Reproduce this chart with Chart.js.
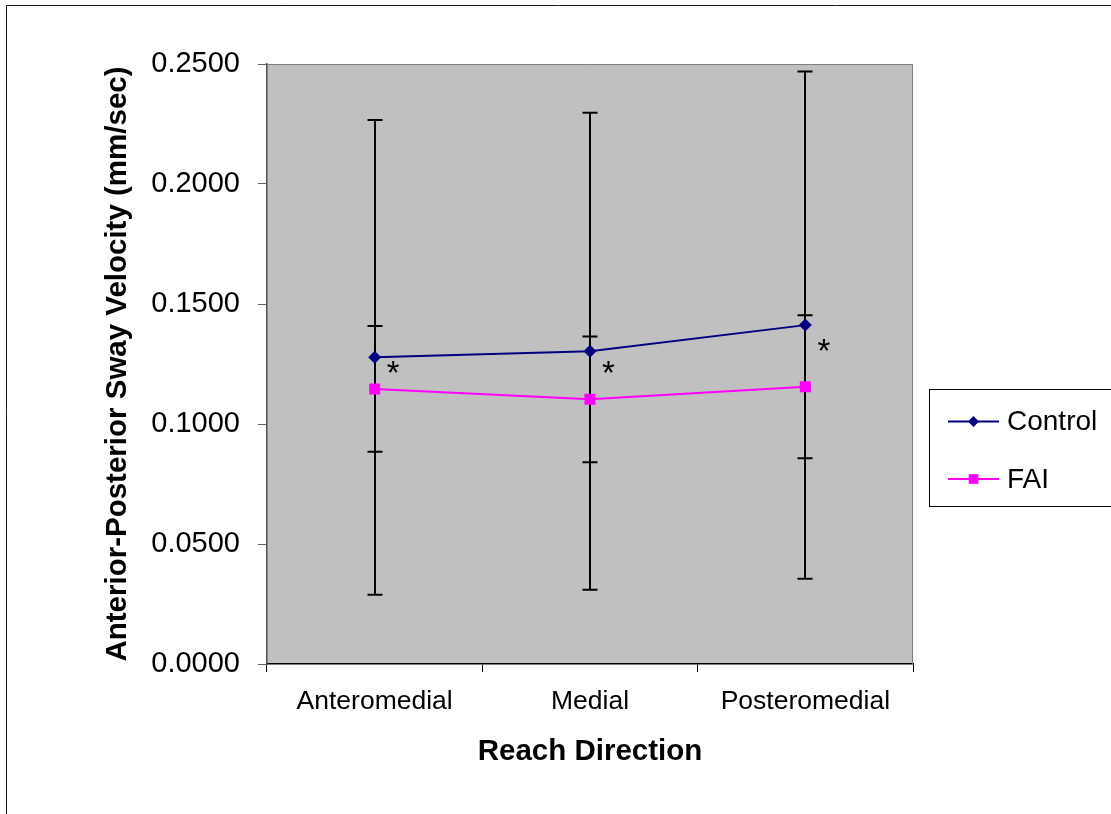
<!DOCTYPE html>
<html>
<head>
<meta charset="utf-8">
<title>Anterior-Posterior Sway Velocity by Reach Direction</title>
<script src="https://cdn.jsdelivr.net/npm/chart.js@4/dist/chart.umd.min.js"></script>
<style>
  html, body { margin: 0; padding: 0; background: #ffffff; overflow: hidden; }
  canvas { display: block; }
</style>
</head>
<body>
<canvas id="chart" width="1111" height="814"></canvas>
<script>
// Reach directions on the x axis
const categories = ['Anteromedial', 'Medial', 'Posteromedial'];

// Mean anterior-posterior sway velocity (mm/sec) and standard deviations
const controlMean = [0.1278, 0.1303, 0.1412];
const controlSD   = [0.0989, 0.0994, 0.1057];
const faiMean     = [0.1146, 0.1103, 0.1155];
const faiSD       = [0.0262, 0.0262, 0.0298];

// Significance markers, one per reach direction (value where the * sits)
const starValues  = [0.1230, 0.1230, 0.1319];

// Y axis range and spacing
const yMin = 0, yMax = 0.25, yStep = 0.05;

const FONT = '"Liberation Sans", Arial, Helvetica, sans-serif';
Chart.defaults.font.family = FONT;
Chart.defaults.color = '#000000';

// White page, outer frame and grey plot area
const backgroundPlugin = {
  id: 'backgroundPlugin',
  beforeDraw(chart) {
    const { ctx, chartArea: a } = chart;
    ctx.save();
    ctx.fillStyle = '#ffffff';
    ctx.fillRect(0, 0, chart.width, chart.height);
    ctx.strokeStyle = '#1a1a1a';
    ctx.lineWidth = 1;
    ctx.beginPath();
    ctx.moveTo(6.5, chart.height + 2);
    ctx.lineTo(6.5, 5.5);
    ctx.lineTo(chart.width + 2, 5.5);
    ctx.stroke();
    ctx.fillStyle = '#c0c0c0';
    ctx.fillRect(a.left, a.top, a.right - a.left, a.bottom - a.top);
    ctx.restore();
  }
};

// Grey top/right border of the plot area and the SD error bars
const errorBarPlugin = {
  id: 'errorBarPlugin',
  beforeDatasetsDraw(chart) {
    const { ctx, chartArea: a } = chart;
    const yScale = chart.scales.y;
    ctx.save();
    ctx.strokeStyle = '#808080';
    ctx.lineWidth = 1;
    ctx.beginPath();
    ctx.moveTo(a.left, a.top + 0.5);
    ctx.lineTo(a.right - 0.5, a.top + 0.5);
    ctx.lineTo(a.right - 0.5, a.bottom);
    ctx.stroke();

    ctx.strokeStyle = '#000000';
    ctx.lineWidth = 2;
    chart.data.datasets.forEach((ds, di) => {
      const meta = chart.getDatasetMeta(di);
      ds.data.forEach((v, i) => {
        const sd = ds.sd[i];
        const x = Math.round(meta.data[i].x);
        const yTop = yScale.getPixelForValue(v + sd);
        const yBot = yScale.getPixelForValue(v - sd);
        ctx.beginPath();
        ctx.moveTo(x, yTop);
        ctx.lineTo(x, yBot);
        ctx.moveTo(x - 7.5, yTop);
        ctx.lineTo(x + 7.5, yTop);
        ctx.moveTo(x - 7.5, yBot);
        ctx.lineTo(x + 7.5, yBot);
        ctx.stroke();
      });
    });
    ctx.restore();
  }
};

// Asterisks beside the Control points
const starPlugin = {
  id: 'starPlugin',
  afterDatasetsDraw(chart) {
    const { ctx } = chart;
    const xScale = chart.scales.x, yScale = chart.scales.y;
    ctx.save();
    ctx.fillStyle = '#000000';
    ctx.font = '33px ' + FONT;
    ctx.textAlign = 'center';
    ctx.textBaseline = 'alphabetic';
    starValues.forEach((v, i) => {
      const x = xScale.getPixelForValue(i) + 18.5;
      const y = yScale.getPixelForValue(v) + 15;
      ctx.fillText('*', x, y);
    });
    ctx.restore();
  }
};

function drawMarker(ctx, style, x, y, r, color) {
  ctx.fillStyle = color;
  ctx.beginPath();
  if (style === 'rectRot') {
    ctx.moveTo(x, y - r);
    ctx.lineTo(x + r, y);
    ctx.lineTo(x, y + r);
    ctx.lineTo(x - r, y);
    ctx.closePath();
  } else {
    const h = r * Math.SQRT1_2;
    ctx.rect(x - h, y - h, 2 * h, 2 * h);
  }
  ctx.fill();
}

// Boxed legend to the right of the plot
const legendBoxPlugin = {
  id: 'legendBoxPlugin',
  afterDraw(chart) {
    const { ctx } = chart;
    const box = { left: 929.5, top: 389.5, right: chart.width + 5, bottom: 506.5 };
    ctx.save();
    ctx.fillStyle = '#ffffff';
    ctx.fillRect(box.left, box.top, box.right - box.left, box.bottom - box.top);
    ctx.strokeStyle = '#000000';
    ctx.lineWidth = 1;
    ctx.strokeRect(box.left, box.top, box.right - box.left, box.bottom - box.top);
    const rows = [421.5, 479];
    chart.data.datasets.forEach((ds, i) => {
      const y = rows[i];
      ctx.strokeStyle = ds.borderColor;
      ctx.lineWidth = 2;
      ctx.beginPath();
      ctx.moveTo(948, y);
      ctx.lineTo(999, y);
      ctx.stroke();
      drawMarker(ctx, ds.pointStyle, 973.5, y, ds.pointStyle === 'rectRot' ? 5.5 : 6.8, ds.pointBackgroundColor);
      ctx.fillStyle = '#000000';
      ctx.font = '28px ' + FONT;
      ctx.textAlign = 'left';
      ctx.textBaseline = 'middle';
      ctx.fillText(ds.label, 1007, y + 1);
    });
    ctx.restore();
  }
};

new Chart(document.getElementById('chart'), {
  type: 'line',
  data: {
    labels: categories,
    datasets: [
      {
        label: 'Control',
        data: controlMean,
        sd: controlSD,
        borderColor: '#000080',
        backgroundColor: '#000080',
        pointBackgroundColor: '#000080',
        pointBorderColor: '#000080',
        borderWidth: 2,
        pointStyle: 'rectRot',
        pointRadius: 6.5,
        pointBorderWidth: 0,
        tension: 0,
        fill: false
      },
      {
        label: 'FAI',
        data: faiMean,
        sd: faiSD,
        borderColor: '#ff00ff',
        backgroundColor: '#ff00ff',
        pointBackgroundColor: '#ff00ff',
        pointBorderColor: '#ff00ff',
        borderWidth: 2,
        pointStyle: 'rect',
        pointRadius: 7.8,
        pointBorderWidth: 0,
        tension: 0,
        fill: false
      }
    ]
  },
  options: {
    responsive: false,
    animation: false,
    devicePixelRatio: 1,
    events: [],
    layout: { padding: { top: 64, right: 198, bottom: 0, left: 0 } },
    plugins: {
      legend: { display: false },
      tooltip: { enabled: false }
    },
    scales: {
      x: {
        type: 'category',
        offset: true,
        grid: {
          offset: true,
          drawOnChartArea: false,
          drawTicks: true,
          tickLength: 8,
          color: '#000000',
          lineWidth: 1
        },
        border: { color: '#000000', width: 1.5 },
        ticks: {
          font: { size: 26.5 },
          color: '#000000',
          padding: 14,
          maxRotation: 0,
          autoSkip: false
        },
        title: {
          display: true,
          text: 'Reach Direction',
          font: { size: 29.5, weight: 'bold' },
          color: '#000000',
          padding: { top: 0, bottom: 44 }
        },
        afterFit(scale) { scale.height = 150; }
      },
      y: {
        min: yMin,
        max: yMax,
        grid: {
          drawOnChartArea: false,
          drawTicks: true,
          tickLength: 9,
          color: '#606060',
          lineWidth: 1
        },
        border: { color: '#505050', width: 1.5 },
        ticks: {
          stepSize: yStep,
          font: { size: 29 },
          color: '#000000',
          padding: 18,
          callback: (v) => Number(v).toFixed(4)
        },
        title: {
          display: true,
          text: 'Anterior-Posterior Sway Velocity (mm/sec)',
          font: { size: 29.5, weight: 'bold' },
          color: '#000000',
          padding: { top: 100, bottom: 0 }
        },
        afterFit(scale) { scale.width = 267; }
      }
    }
  },
  plugins: [backgroundPlugin, errorBarPlugin, starPlugin, legendBoxPlugin]
});
</script>
</body>
</html>
